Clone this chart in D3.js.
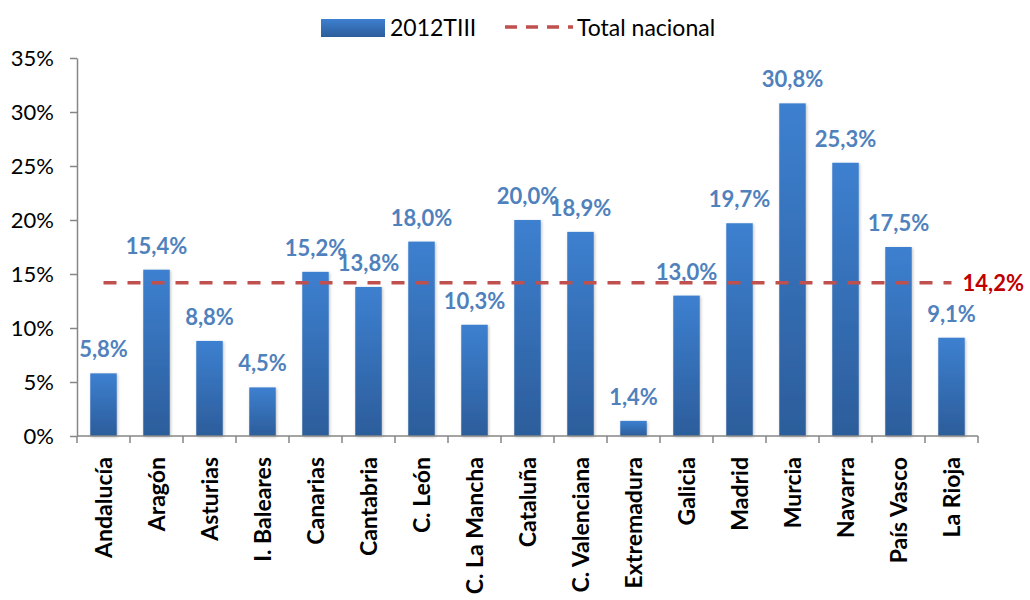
<!DOCTYPE html>
<html>
    <head>
        <meta charset="utf-8">
        <script src="https://cdnjs.cloudflare.com/ajax/libs/d3/7.8.5/d3.min.js"></script>
        <title>Bar Chart</title>
        <style>
            html, body { margin: 0; background: #fff; }
            svg { display: block; font-family: Lato, "Open Sans", sans-serif; }
        </style>
    </head>
    <body>
        <svg width="1030" height="600"></svg>
        <script>
            var regions = ["Andalucía", "Aragón", "Asturias", "I. Baleares", "Canarias", "Cantabria",
                "C. León", "C. La Mancha", "Cataluña", "C. Valenciana", "Extremadura", "Galicia",
                "Madrid", "Murcia", "Navarra", "País Vasco", "La Rioja"];
            var values = [5.8, 15.4, 8.8, 4.5, 15.2, 13.8, 18.0, 10.3, 20.0, 18.9, 1.4, 13.0, 19.7, 30.8, 25.3, 17.5, 9.1];
            var nationalTotal = 14.2;
            var yTicks = [0, 5, 10, 15, 20, 25, 30, 35];

            var svg = d3.select("svg");
            var mLeft = 77, mRight = 978, mTop = 58, mBottom = 436;

            var x = d3.scaleBand().domain(regions).range([mLeft, mRight]).paddingInner(0.5).paddingOuter(0.25);
            var y = d3.scaleLinear().domain([0, 35]).range([mBottom, mTop]);

            var fmt = function(v) { return v.toFixed(1).replace(".", ",") + "%"; };

            var defs = svg.append("defs");
            var grad = defs.append("linearGradient").attr("id", "barGrad")
                .attr("x1", 0).attr("y1", 0).attr("x2", 0).attr("y2", 1);
            grad.append("stop").attr("offset", "0%").attr("stop-color", "#3d80d0");
            grad.append("stop").attr("offset", "100%").attr("stop-color", "#2c5d9b");
            var filt = defs.append("filter").attr("id", "shadow").attr("x", "-30%").attr("y", "-10%")
                .attr("width", "160%").attr("height", "120%");
            filt.append("feDropShadow").attr("dx", 1).attr("dy", 1).attr("stdDeviation", 1.5)
                .attr("flood-color", "#000").attr("flood-opacity", 0.25);

            // y axis
            var yAxis = svg.append("g").attr("transform", "translate(" + mLeft + ",0)")
                .call(d3.axisLeft(y).tickValues(yTicks).tickSize(7).tickSizeOuter(0).tickFormat(function(d) { return d + "%"; }));
            yAxis.select(".domain").attr("stroke", "#868686").attr("stroke-width", 1.5);
            yAxis.selectAll(".tick line").attr("stroke", "#868686").attr("stroke-width", 1.5);
            yAxis.selectAll(".tick text").attr("font-size", 22).attr("fill", "#000").attr("x", -23)
                .attr("font-family", "Lato, sans-serif");

            // bars
            svg.append("g").selectAll("rect").data(values).enter().append("rect")
                .attr("x", function(d, i) { return x(regions[i]); })
                .attr("width", x.bandwidth())
                .attr("y", function(d) { return y(d); })
                .attr("height", function(d) { return mBottom - y(d); })
                .attr("fill", "url(#barGrad)")
                .attr("filter", "url(#shadow)");

            // x axis
            var step = x.step();
            svg.append("line").attr("x1", mLeft).attr("x2", mRight).attr("y1", mBottom).attr("y2", mBottom)
                .attr("stroke", "#868686").attr("stroke-width", 1.5);
            var bounds = d3.range(regions.length + 1).map(function(i) { return mLeft + i * step; });
            svg.append("g").selectAll("line").data(bounds).enter().append("line")
                .attr("x1", function(d) { return d; }).attr("x2", function(d) { return d; })
                .attr("y1", mBottom).attr("y2", mBottom + 7)
                .attr("stroke", "#868686").attr("stroke-width", 1.5);
            svg.append("g").selectAll("text").data(regions).enter().append("text")
                .attr("transform", function(d) {
                    return "translate(" + (x(d) + x.bandwidth() / 2 + 8) + "," + (mBottom + 21) + ") rotate(-90)";
                })
                .attr("text-anchor", "end")
                .attr("font-size", 23).attr("font-weight", "bold").attr("fill", "#000")
                .text(function(d) { return d; });

            // value labels
            svg.append("g").selectAll("text").data(values).enter().append("text")
                .attr("x", function(d, i) { return x(regions[i]) + x.bandwidth() / 2; })
                .attr("y", function(d) { return y(d) - 16; })
                .attr("text-anchor", "middle")
                .attr("font-size", 22).attr("font-weight", "bold").attr("fill", "#4f81bd")
                .text(fmt);

            // national total line
            var x0 = x(regions[0]) + x.bandwidth() / 2;
            var x1 = x(regions[regions.length - 1]) + x.bandwidth() / 2;
            svg.append("line").attr("x1", x0).attr("x2", x1)
                .attr("y1", y(nationalTotal)).attr("y2", y(nationalTotal))
                .attr("stroke", "#c0504d").attr("stroke-width", 3.5).attr("stroke-dasharray", "13,11");
            svg.append("text").attr("x", x1 + 11).attr("y", y(nationalTotal) + 8)
                .attr("font-size", 22).attr("font-weight", "bold").attr("fill", "#c00000")
                .text(fmt(nationalTotal));

            // legend
            var lg = svg.append("g");
            lg.append("rect").attr("x", 321).attr("y", 19).attr("width", 64).attr("height", 18)
                .attr("fill", "url(#barGrad)");
            lg.append("text").attr("x", 390).attr("y", 36).attr("font-size", 23).attr("fill", "#000").text("2012TIII");
            lg.append("line").attr("x1", 505).attr("x2", 573).attr("y1", 27).attr("y2", 27)
                .attr("stroke", "#c0504d").attr("stroke-width", 3.5).attr("stroke-dasharray", "12,9");
            lg.append("text").attr("x", 577).attr("y", 36).attr("font-size", 23).attr("fill", "#000").text("Total nacional");
        </script>
    </body>
</html>
